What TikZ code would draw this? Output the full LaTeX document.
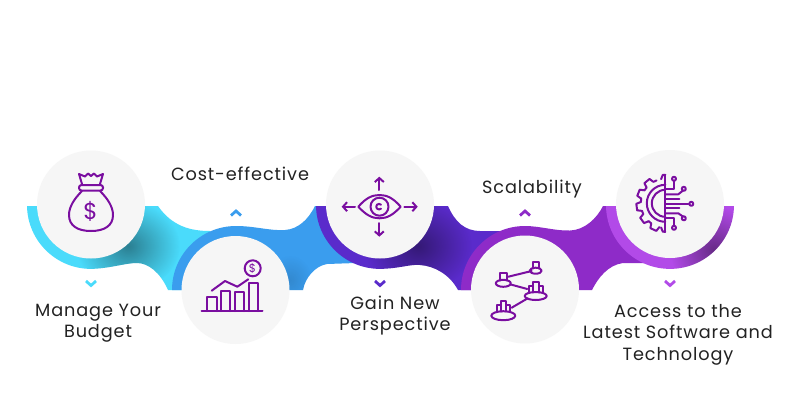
\documentclass[tikz,border=0pt]{standalone}
\usepackage{fontspec}
\setmainfont[LetterSpace=5]{Poppins}
\usetikzlibrary{arrows.meta, fadings}

\definecolor{cyanband}{HTML}{4ADBFB}
\definecolor{blueband}{HTML}{3A9DEE}
\definecolor{deepband}{HTML}{5A2BCB}
\definecolor{violetband}{HTML}{8E2BC8}
\definecolor{lightband}{HTML}{B24AE8}
\definecolor{iconpurple}{HTML}{7A0EA0}
\definecolor{disc}{HTML}{F6F6F6}
\definecolor{inktext}{HTML}{222222}

\tikzfading[name=soft, inner color=transparent!58, outer color=transparent!100]

\newcommand{\bandcyan}{(27,206) arc [start angle=179, end angle=90, radius=64] .. controls (110,268.5) and (125,263) .. (137,263) .. controls (148,263) and (160,272) .. (168,290) -- (210,290) -- (210,231) .. controls (190,231) and (172,226) .. (158,206) -- cycle}
\newcommand{\bandblue}{(172,290) arc [start angle=180, end angle=270, radius=64] .. controls (255,226) and (270,231) .. (285,230) .. controls (298,229) and (308,220) .. (315,206) -- (340,206) -- (356,240) -- (356,263) -- (327,264) .. controls (315,266) and (305,278) .. (303,290) -- cycle}
\newcommand{\banddeep}{(316,206) arc [start angle=179, end angle=90, radius=64] .. controls (400,268.5) and (410,264) .. (420,265) .. controls (435,266) and (450,275) .. (458,290) -- (500,290) -- (500,231) -- (480,231) .. controls (465,231) and (455,222) .. (448,206) -- cycle}
\newcommand{\bandviolet}{(461,290) arc [start angle=180, end angle=270, radius=64] .. controls (540,226) and (555,231) .. (570,230.5) .. controls (585,230) and (597,218) .. (603,206) -- (640,206) -- (648,240) -- (648,263) -- (623,263) .. controls (608,265) and (598,278) .. (592,290) -- cycle}
\newcommand{\bandlight}{(606,206) arc [start angle=179, end angle=1, radius=64] -- cycle}

\begin{document}
\begin{tikzpicture}[x=1pt, y=-1pt,
        disk/.style = {circle, fill = disc, minimum size = 108pt, inner sep = 0pt},
        caption/.style = {text = inktext, font = \fontsize{17.7}{21.5}\selectfont, align = center},
        icon/.style = {draw = iconpurple, line width = 2pt, line join = round, line cap = round},
        chevron/.style = {line width = 2.8pt, miter limit = 10},
        bararrow/.style = {icon, -{Straight Barb[length=4pt, width=9pt]}}]
        \useasboundingbox (0,0) rectangle (800,400);
        \fill [white] (0,0) rectangle (800,400);

        % bands
        \fill [cyanband] \bandcyan;
        \begin{scope}
                \clip \bandcyan;
                \fill [black, path fading = soft] (128,246) ellipse (52 and 44);
        \end{scope}
        \fill [blueband] \bandblue;
        \begin{scope}
                \clip \bandblue;
                \fill [black, path fading = soft, opacity = .3] (290,280) ellipse (22 and 25);
        \end{scope}
        \fill [deepband] \banddeep;
        \begin{scope}
                \clip \banddeep;
                \fill [black, path fading = soft] (418,246) ellipse (54 and 46);
        \end{scope}
        \fill [violetband] \bandviolet;
        \fill [lightband] \bandlight;
        \begin{scope}
                \clip \bandlight;
                \fill [black, path fading = soft] (714,250) ellipse (44 and 44);
        \end{scope}

        % disks
        \node [disk] (d1) at (91, 204.5) {};
        \node [disk] (d2) at (235.5, 290) {};
        \node [disk] (d3) at (380, 204.5) {};
        \node [disk] (d4) at (525, 289.5) {};
        \node [disk] (d5) at (670, 204) {};

        % chevrons
        \draw [chevron, cyanband] (86,281) -- (91,285.5) -- (96,281);
        \draw [chevron, blueband] (231,215.5) -- (236,211) -- (241,215.5);
        \draw [chevron, deepband] (375,281) -- (380,285.5) -- (385,281);
        \draw [chevron, violetband] (520,215.5) -- (525,211) -- (530,215.5);
        \draw [chevron, lightband] (665,281) -- (670,285.5) -- (675,281);

        % captions
        \node [caption] (manage) at (98, 323) {Manage Your\\Budget};
        \node [caption] (cost) at (240, 174) {Cost-effective};
        \node [caption] (gain) at (395, 315.5) {Gain New\\Perspective};
        \node [caption] (scale) at (532, 189.5) {Scalability};
        \node [caption] (access) at (678, 334.5) {Access to the\\Latest Software and\\Technology};

        % money bag
        \draw [icon] (82,184) -- (79,174) -- (85,176.5) -- (88,173.5) -- (91,176) -- (94,173.5) -- (97,176.5) -- (103,174) -- (100,184);
        \draw [icon, rounded corners = 2.5pt] (79,185) rectangle (103,190.5);
        \draw [icon] (82,191) .. controls (74,199) and (69,207) .. (69,215) .. controls (69,226) and (78,231) .. (91,231) .. controls (104,231) and (113,226) .. (113,215) .. controls (113,207) and (108,199) .. (100,191);
        \node [text = iconpurple, font = \fontsize{23}{23}\selectfont] (usd) at (90.5,211.5) {\$};

        % chart
        \draw [icon] (201.5,311) -- (262.5,311);
        \draw [icon] (207,311) |- (216.7,296.7) -- (216.7,311);
        \draw [icon] (221.3,311) |- (230,290.7) -- (230,311);
        \draw [icon] (235,311) |- (244,292.3) -- (244,311);
        \draw [icon] (249,311) |- (257.7,282.7) -- (257.7,311);
        \draw [icon] (211.7,290.7) -- (225,281) -- (237.3,286.7) -- (248.3,279.3);
        \draw [icon] (252.7,268.3) circle (8);
        \node [text = iconpurple, font = \fontsize{11.5}{11.5}\selectfont] (coin) at (252.5,268) {\$};

        % eye
        \draw [icon] (358.3,206.7) .. controls (366,198) and (372,195) .. (379.5,195) .. controls (387,195) and (393,198) .. (400.7,206.7) .. controls (393,215) and (387,218.3) .. (379.5,218.3) .. controls (372,218.3) and (366,215) .. (358.3,206.7) -- cycle;
        \draw [icon] (379.5,206.7) circle (9);
        \draw [icon] (381,204.7) arc [start angle=-45, end angle=-315, radius=2.8];
        \draw [bararrow] (379.3,190) -- (379.3,176.7);
        \draw [bararrow] (379.3,223) -- (379.3,236.7);
        \draw [bararrow] (355,206.7) -- (341.7,206.7);
        \draw [bararrow] (404.3,206.7) -- (417.7,206.7);

        % linked columns
        \draw [icon] (503.3,283.3) ellipse (7.5 and 3.5);
        \draw [icon] (500,280.5) |- (506.7,272.7) -- (506.7,280.5);
        \draw [icon] (535.7,270.7) ellipse (6 and 3);
        \draw [icon] (532.5,268.5) |- (539,261.7) -- (539,268.5);
        \draw [icon] (535.7,296) ellipse (11 and 4);
        \draw [icon] (529,292.5) |- (533,285.5) |- (538.5,281.7) |- (542.5,286) -- (542.5,292.5);
        \draw [icon] (533,286) -- (533,292.5) (538.5,286) -- (538.5,292.5);
        \draw [icon] (503.3,315.7) ellipse (12 and 4.5);
        \draw [icon] (497,311.5) |- (501,305) |- (506,301) |- (510,305) -- (510,311.5);
        \draw [icon] (501,305) -- (501,311.5) (506,305) -- (506,311.5);
        \draw [icon] (508.3,276.7) -- (531.7,271);
        \draw [icon] (510,284.3) -- (527.3,289);
        \draw [icon] (511.7,307.7) -- (527.7,298.3);

        % gear and circuit
        \begin{scope}[shift = {(665.3,203.3)}]
                \draw [icon] (90:28.5) -- (95:28.5) -- (100:24.5);
                \foreach \a in {104,133,162,191,220}
                        {
                          \draw [icon] (\a:24.5) -- ({\a+4}:29) -- ({\a+17}:29) -- ({\a+21}:24.5) -- ({\a+29}:24.5);
                        }
                \draw [icon] (270:28.5) -- (265:28.5) -- (260:24.5);
                \draw [icon] (90:18.5) arc [start angle=90, end angle=270, radius=18.5];
                \draw [icon] (90:13.5) arc [start angle=90, end angle=270, radius=13.5];
                \draw [icon] (0,-28.5) -- (0,28.5);
                \draw [icon] (0,-14) -| (8.5,-22);
                \draw [icon] (0,-9) -- (13,-9) -- (18,-13);
                \draw [icon] (0,-4) -- (14,-4);
                \draw [icon] (0,0.5) -- (23,0.5);
                \draw [icon] (0,5) -- (14,5);
                \draw [icon] (0,10) -- (13,10) -- (18,13.5);
                \draw [icon] (0,15) -| (8.5,22);
                \foreach \p in {(8.7,-24.5), (18.5,-14.5), (26,0.5), (18.5,15), (8.7,24.5)}
                        {
                          \draw [icon, fill = disc] \p circle (2);
                        }
        \end{scope}
\end{tikzpicture}
\end{document}
